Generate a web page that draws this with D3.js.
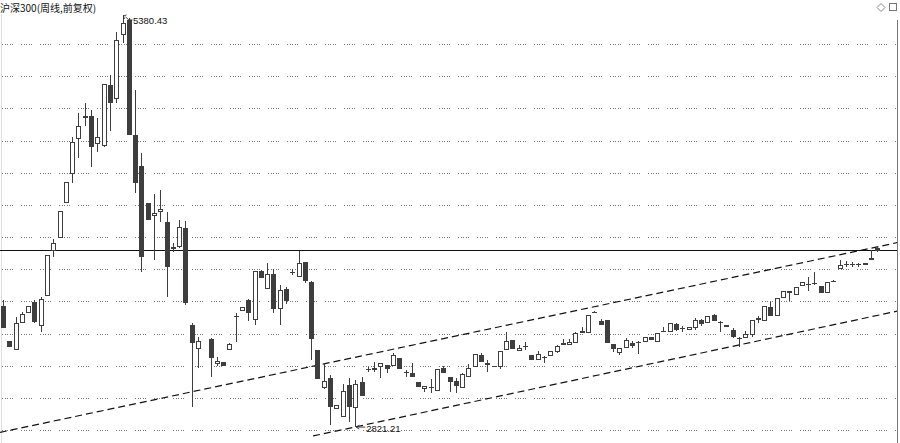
<!DOCTYPE html>
<html><head><meta charset="utf-8">
<script src="https://cdn.jsdelivr.net/npm/d3@7"></script>
<style>html,body{margin:0;padding:0;background:#fff;overflow:hidden}</style>
</head><body><svg id="chart" width="900" height="443"></svg>
<script>
// ---- DATA (weekly candles, index order) ----
const title = "沪深300(周线,前复权)";
const openP = [3571,3353,3298,3465,3528,3596,3447,3633,3913,3994,
4211,4392,4609,4740,4752,4578,4566,4945,4858,5256,
5349,4634,4441,4211,4131,4155,4093,3935,3938,4056,
3453,3304,null,3366,3210,3223,3298,3500,3540,3608,
3484,3789,3677,3770,3552,3677,3782,3751,3845,3722,
3297,3061,3124,2931,2881,3080,2937,3098,3182,3173,
3192,3204,3198,3248,3161,3155,3099,3055,3064,3043,
3186,3130,3105,3061,3130,3192,3266,3217,3192,3192,
3297,3360,3291,3316,3266,3235,3256,3260,3285,3341,
3329,3341,3403,3403,3530,3478,3484,3335,3279,3310,
3341,3349,3347,3378,3347,3418,3409,3459,3434,3422,
3434,3484,3465,3515,3474,3453,3422,3374,3372,3391,
3496,3478,3565,3509,3621,3665,3640,3695,3705,3714,
3695,3652,3724,3801,3832,3826,3828,3838,3860,3932];
const highP = [3608,3353,3503,3534,3571,3608,3627,3888,3988,4162,
4342,4622,4771,4833,4790,4740,4951,5007,5275,5380.43,
5360,4914,4522,4211,4267,4292,4155,3960,4106,4100,
3465,3378,null,3372,3254,3223,3341,3528,3565,3615,
3789,3795,3840,3801,3702,3690,3800,3915,3845,3726,
3297,3217,3142,2956,3086,3124,3111,3130,3192,3223,
3217,3204,3279,3248,3173,3217,3099,3074,3117,3179,
3198,3130,3124,3155,3211,3273,3279,3235,3200,3291,
3409,3360,3329,3347,3266,3291,3258,3291,3328,3366,
3366,3409,3440,3515,3540,3490,3484,3335,3310,3372,
3353,3353,3378,3378,3403,3440,3465,3465,3447,3440,
3496,3490,3509,3521,3478,3453,3434,3378,3416,3484,
3509,3571,3596,3621,3665,3665,3690,3720,3751,3783,
3695,3720,3730,3857,3851,3845,3838,3838,3919,3944];
const lowP = [3434,3316,3298,3465,3528,3465,3410,3633,3876,3994,
4211,4336,4491,4690,4435,4529,4560,4659,4833,5206,
4634,4274,3782,4106,3857,4093,3627,3905,3932,3577,
2943,3186,null,3130,3198,3198,3298,3347,3540,3478,
3453,3745,3677,3528,3453,3584,3765,3751,3714,3235,
3117,3055,2831,2931,2881,2852,2821.21,3012,3161,3161,
3124,3155,3198,3179,3130,3130,3068,3036,3030,3043,
3155,3036,3030,3061,3130,3192,3223,3161,3190,3179,
3297,3304,3291,3297,3235,3235,3217,3260,3279,3329,
3329,3341,3403,3403,3528,3453,3341,3285,3266,3310,
3310,3273,3347,3360,3347,3409,3409,3416,3409,3422,
3422,3447,3465,3478,3409,3440,3372,3316,3372,3378,
3465,3478,3509,3509,3621,3602,3640,3695,3665,3702,
3652,3652,3720,3801,3814,3814,3814,3826,3857,3907];
const closeP = [3434,3316,3465,3521,3571,3472,3615,3888,3963,4162,
4342,4591,4690,4752,4560,4622,4951,4833,5225,5331,
4634,4336,3876,4106,4149,4174,3814,3925,4062,3590,
3341,3353,null,3248,3229,3198,3335,3510,3565,3528,
3789,3745,3770,3552,3670,3602,3778,3838,3726,3364,
3117,3105,2943,2956,3043,2943,3086,3012,3176,3186,
3217,3179,3266,3179,3155,3130,3068,3074,3068,3179,
3155,3099,3074,3148,3186,3273,3223,3204,3198,3291,
3353,3304,3310,3322,3235,3273,3252,3291,3322,3329,
3347,3403,3416,3515,3534,3453,3341,3304,3310,3360,
3322,3345,3378,3360,3403,3414,3465,3422,3428,3440,
3484,3459,3509,3478,3470,3440,3378,3370,3397,3484,
3484,3571,3509,3621,3665,3652,3690,3720,3710,3708,
3652,3720,3727,3826,3826,3832,3830,3826,3870,3913];
const gridValues = [2800,3000,3200,3400,3600,3800,4000,4200,4400,4600,4800,5000,5200];
const levelValue = 3919;
const upperTrend = [{i:-0.5, v:2785}, {i:142.3, v:3966}];
const lowerTrend = [{i:49.3, v:2763}, {i:142.3, v:3540}];

// ---- CHART ----
const svg = d3.select('#chart');
const x = d3.scaleLinear().domain([0,139]).range([3,877.3]);
const y = d3.scaleLinear().domain([2800,5200]).range([430,44]);
const rightEdge = 897;
const dark = '#3e3e3e';

svg.append('rect').attr('width',900).attr('height',443).attr('fill','#fff');
svg.append('defs').append('clipPath').attr('id','plot')
  .append('rect').attr('x',0).attr('y',0).attr('width',rightEdge).attr('height',443);

// grid
svg.append('g').selectAll('line').data(gridValues).join('line')
  .attr('x1',2).attr('x2',rightEdge-1)
  .attr('y1',d=>Math.round(y(d))+0.5).attr('y2',d=>Math.round(y(d))+0.5)
  .attr('stroke','#777').attr('stroke-width',1)
  .attr('stroke-dasharray','1,1.5,1,1.5,1,1.5,1,1.5,1,8')
  .attr('shape-rendering','crispEdges');

// borders
svg.append('line').attr('x1',1.5).attr('x2',1.5).attr('y1',14).attr('y2',443)
  .attr('stroke','#ddd').attr('shape-rendering','crispEdges');
svg.append('line').attr('x1',rightEdge+0.5).attr('x2',rightEdge+0.5).attr('y1',20).attr('y2',443)
  .attr('stroke','#777').attr('shape-rendering','crispEdges');

const plot = svg.append('g').attr('clip-path','url(#plot)');

// level line
plot.append('line').attr('x1',0).attr('x2',rightEdge)
  .attr('y1',Math.round(y(levelValue))+0.5).attr('y2',Math.round(y(levelValue))+0.5)
  .attr('stroke','#111').attr('stroke-width',1).attr('shape-rendering','crispEdges');

// trend lines
const tl = d3.line().x(d=>x(d.i)).y(d=>y(d.v));
[upperTrend, lowerTrend].forEach(t=>{
  plot.append('path').attr('d',tl(t)).attr('fill','none')
    .attr('stroke','#111').attr('stroke-width',1.2).attr('stroke-dasharray','7,4');
});

// candles
const data = openP.map((o,i)=> o==null?null:{i, o, h:highP[i], l:lowP[i], c:closeP[i]}).filter(Boolean);
const cg = plot.append('g').attr('shape-rendering','crispEdges');
const g = cg.selectAll('g').data(data).join('g');
g.append('line')
  .attr('x1',d=>Math.round(x(d.i))+0.5).attr('x2',d=>Math.round(x(d.i))+0.5)
  .attr('y1',d=>y(d.h)).attr('y2',d=>y(d.l))
  .attr('stroke',dark).attr('stroke-width',1);
g.each(function(d){
  const sel = d3.select(this);
  const cx = Math.round(x(d.i));
  const top = Math.round(y(Math.max(d.o,d.c)));
  const bot = Math.round(y(Math.min(d.o,d.c)));
  const hgt = bot - top;
  if (hgt < 2) {
    sel.append('rect').attr('x',cx-2).attr('y',top).attr('width',5).attr('height',1).attr('fill',dark);
  } else if (d.c >= d.o) {
    sel.append('rect').attr('x',cx-1.5).attr('y',top+0.5).attr('width',4).attr('height',hgt-1)
      .attr('fill','#fff').attr('stroke',dark).attr('stroke-width',1);
  } else {
    sel.append('rect').attr('x',cx-2).attr('y',top).attr('width',5).attr('height',hgt).attr('fill',dark);
  }
});

// annotations (max high, min low)
const allH = data.map(d=>d.h), allL = data.map(d=>d.l);
const hiD = data[d3.maxIndex(allH)], loD = data[d3.minIndex(allL)];
const ann = svg.append('g').attr('font-family','"Liberation Sans", Arial, sans-serif').attr('font-size',9.5).attr('fill','#111');
{
  const cx = x(hiD.i), cy = y(hiD.h);
  ann.append('path').attr('d',`M${cx+10},${cy+5} Q${cx+6},${cy+6} ${cx+3},${cy+2} M${cx+1},${cy+1} l3,-1 M${cx+1},${cy+1} l1,3`)
    .attr('fill','none').attr('stroke','#333').attr('stroke-width',0.9);
  ann.append('text').attr('x',cx+10.5).attr('y',cy+9).text(hiD.h.toFixed(2));
}
{
  const cx = x(loD.i), cy = y(loD.l);
  ann.append('path').attr('d',`M${cx+10},${cy+0.5} L${cx+1},${cy+0.5} M${cx+1},${cy+0.5} l3,-2 M${cx+1},${cy+0.5} l3,2`)
    .attr('fill','none').attr('stroke','#333').attr('stroke-width',0.9);
  ann.append('text').attr('x',cx+11).attr('y',cy+5).text(loD.l.toFixed(2));
}

// title
svg.append('text').attr('x',0).attr('y',12)
  .attr('font-family','"Noto Sans CJK SC", sans-serif').attr('font-size',10).attr('fill','#111')
  .text(title);

// top-right icons
svg.append('path').attr('d','M877,7.5 L881,3.5 L885,7.5 L881,11.5 Z').attr('fill','none').attr('stroke','#888').attr('stroke-width',1);
svg.append('rect').attr('x',889.5).attr('y',3.5).attr('width',7).attr('height',7).attr('fill','none').attr('stroke','#777').attr('stroke-width',1);
</script>
</body></html>
